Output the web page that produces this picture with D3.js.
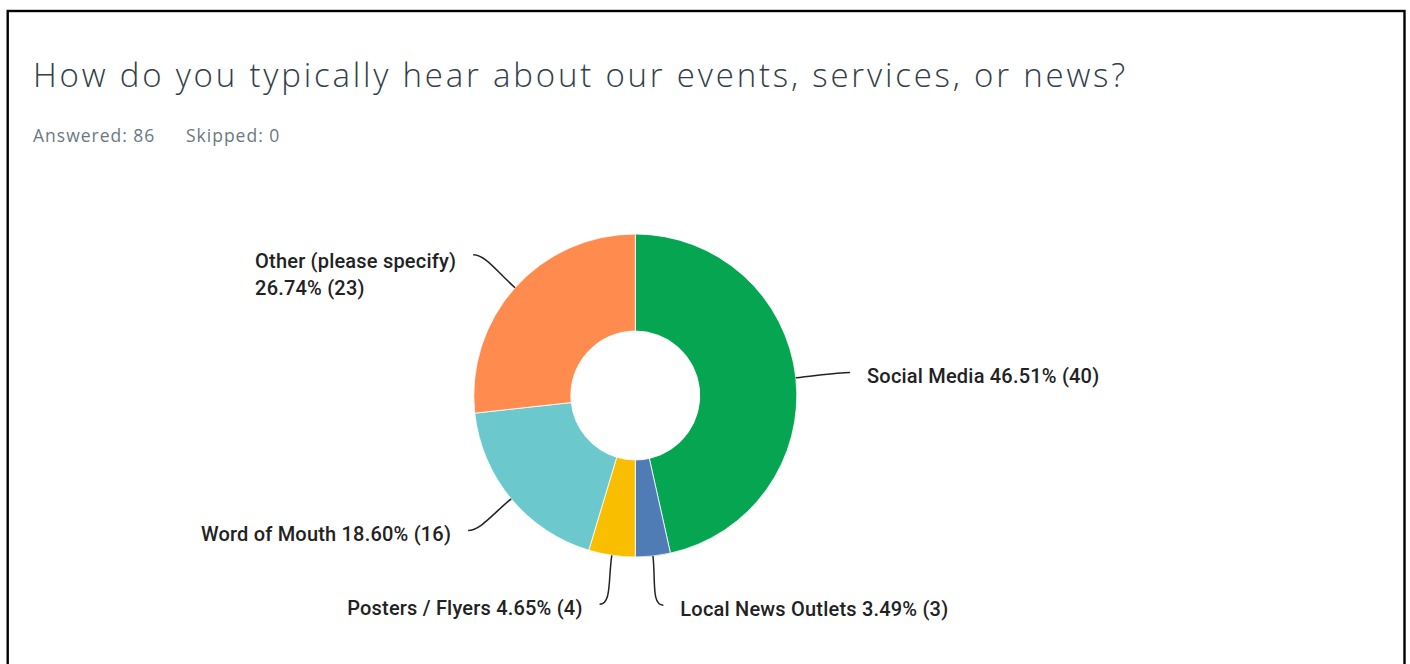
<!DOCTYPE html>
<html>
<head>
<meta charset="utf-8">
<script src="https://cdn.jsdelivr.net/npm/d3@7"></script>
<style>
  body { margin: 0; background: #fff; }
  svg { display: block; }
</style>
</head>
<body>
<script>
// survey answers, in clockwise order starting at 12 o'clock
var categories = ["Social Media", "Local News Outlets", "Posters / Flyers", "Word of Mouth", "Other (please specify)"];
var counts = [40, 3, 4, 16, 23];
var percents = ["46.51%", "3.49%", "4.65%", "18.60%", "26.74%"];
var answered = 86;
var skipped = 0;

var w = 1410,
    h = 664;

var cx = 635.3,
    cy = 395.5,
    rOuter = 161.5,
    rInner = 64.5,
    rLabel = 211;

var color = d3.scaleOrdinal()
    .domain(categories)
    .range(["#05a552", "#507cb6", "#f9be00", "#6bc8cd", "#ff8b4f"]);

var svg = d3.select("body").append("svg")
    .attr("width", w)
    .attr("height", h);

// frame round the whole screenshot
svg.append("rect")
    .attr("x", 7.7)
    .attr("y", 11)
    .attr("width", 1396.8)
    .attr("height", 700)
    .attr("fill", "none")
    .attr("stroke", "#000")
    .attr("stroke-width", 2.4);

svg.append("text")
    .attr("x", 33)
    .attr("y", 86.5)
    .attr("font-family", "'Open Sans', sans-serif")
    .attr("font-weight", 300)
    .attr("font-size", 33)
    .attr("letter-spacing", 2.8)
    .attr("fill", "#333e48")
    .text("How do you typically hear about our events, services, or news?");

var sub = svg.append("g")
    .attr("font-family", "'Open Sans', sans-serif")
    .attr("font-size", 17.5)
    .attr("letter-spacing", 1)
    .attr("fill", "#6b787f");

sub.append("text").attr("x", 33).attr("y", 141.5).text("Answered: " + answered);
sub.append("text").attr("x", 186).attr("y", 141.5).text("Skipped: " + skipped);

var data = categories.map(function(c, i) {
    return {name: c, count: counts[i], pct: percents[i]};
});

var pie = d3.pie()
    .sort(null)
    .value(function(d) { return d.count; });

var arc = d3.arc()
    .innerRadius(rInner)
    .outerRadius(rOuter);

var chart = svg.append("g")
    .attr("transform", "translate(" + cx + "," + cy + ")");

var slices = pie(data);

chart.selectAll(".slice")
    .data(slices)
    .enter().append("path")
    .attr("class", "slice")
    .attr("d", arc)
    .attr("fill", function(d) { return color(d.data.name); })
    .attr("stroke", "#fff")
    .attr("stroke-width", 0.8);

// point on a circle of radius r at angle a (0 = up, clockwise)
function polar(r, a) {
    return [r * Math.sin(a), -r * Math.cos(a)];
}

slices.forEach(function(d) {
    var a = (d.startAngle + d.endAngle) / 2;
    var p0 = polar(rOuter, a);
    var lp = polar(rLabel, a);
    var side = lp[0] < 0 ? -1 : 1;
    var end = [lp[0] + side * 5, lp[1]];
    var dir = [Math.sin(a), -Math.cos(a)];
    var p1 = [p0[0] + dir[0] * 25, p0[1] + dir[1] * 25];
    var p2 = [end[0] - side * 12, end[1]];

    var path = d3.path();
    path.moveTo(p0[0], p0[1]);
    path.bezierCurveTo(p1[0], p1[1], p2[0], p2[1], end[0], end[1]);

    chart.append("path")
        .attr("d", path.toString())
        .attr("fill", "none")
        .attr("stroke", "#222")
        .attr("stroke-width", 1.5);

    var label = chart.append("text")
        .attr("font-family", "Roboto, sans-serif")
        .attr("font-weight", 500)
        .attr("font-size", 20)
        .attr("letter-spacing", 0.2)
        .attr("fill", "#222");

    var tx = end[0] + side * 17;

    if (d.data.name.length > 20) {
        // long names get the numbers on a second line, block left aligned
        var lines = [d.data.name, d.data.pct + " (" + d.data.count + ")"];
        var spans = label.selectAll("tspan")
            .data(lines)
            .enter().append("tspan")
            .attr("y", function(t, i) { return end[1] + 13 + i * 27; })
            .text(function(t) { return t; });
        var maxW = 0;
        spans.each(function() { maxW = Math.max(maxW, this.getComputedTextLength()); });
        spans.attr("x", side < 0 ? tx - maxW : tx);
    } else {
        label.attr("x", tx)
            .attr("y", end[1] + 11)
            .attr("text-anchor", side < 0 ? "end" : "start")
            .text(d.data.name + " " + d.data.pct + " (" + d.data.count + ")");
    }
});
</script>
</body>
</html>
